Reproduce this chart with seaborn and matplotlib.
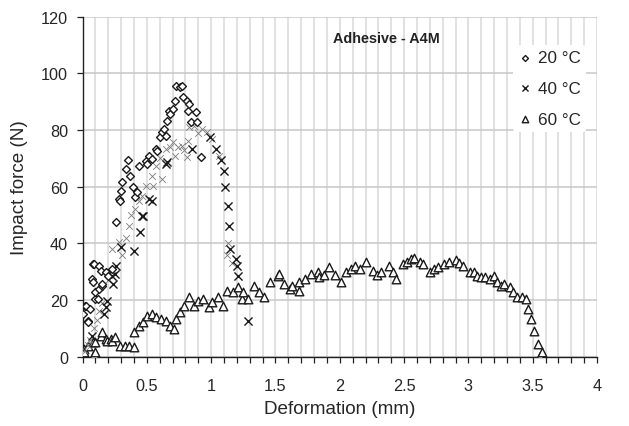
import matplotlib
matplotlib.use("Agg")
import matplotlib.pyplot as plt
import seaborn as sns
from matplotlib.ticker import MultipleLocator, FormatStrFormatter

# 20 °C (diamonds)
d20_x = [0.00, 0.02, 0.03, 0.04, 0.04, 0.06, 0.07, 0.08, 0.08, 0.09, 0.10, 0.10, 0.12, 0.13, 0.13,
         0.14, 0.15, 0.15, 0.18, 0.20, 0.23, 0.26, 0.28, 0.29, 0.30, 0.31, 0.34, 0.35, 0.37, 0.39,
         0.41, 0.42, 0.44, 0.49, 0.50, 0.52, 0.54, 0.57, 0.58, 0.60, 0.62, 0.63, 0.65, 0.66, 0.67,
         0.68, 0.70, 0.72, 0.73, 0.76, 0.77, 0.78, 0.81, 0.82, 0.83, 0.84, 0.88, 0.89, 0.92]
d20_y = [15.1, 18.0, 18.0, 12.7, 12.2, 16.9, 27.4, 26.3, 32.7, 32.7, 20.4, 22.7, 20.4, 32.1, 23.9,
         30.4, 25.1, 25.7, 29.8, 28.6, 31.0, 47.4, 55.7, 55.1, 58.6, 61.5, 66.2, 69.5, 63.9, 59.8,
         56.3, 58.0, 67.4, 69.2, 68.0, 70.9, 69.8, 73.3, 72.7, 77.4, 79.2, 80.4, 78.0, 83.3, 86.8,
         85.6, 87.4, 90.3, 95.6, 95.1, 95.6, 91.5, 90.3, 86.8, 89.2, 82.7, 86.2, 82.7, 70.4]

# 40 °C (crosses)
d40_x = [0.07, 0.17, 0.18, 0.19, 0.23, 0.24, 0.25, 0.26, 0.30, 0.40, 0.45, 0.46, 0.47, 0.52, 0.54,
         0.65, 0.66, 0.85, 0.99, 1.04, 1.08, 1.10, 1.11, 1.13, 1.14, 1.15, 1.19, 1.20, 1.21, 1.29]
d40_y = [7.4, 15.1, 17.5, 19.8, 28.6, 25.7, 29.2, 32.1, 38.6, 37.4, 43.9, 49.8, 49.8, 55.7, 55.1,
         68.0, 68.6, 73.3, 77.4, 73.3, 69.5, 65.6, 59.8, 53.3, 46.0, 38.0, 34.5, 32.1, 28.6, 12.7]
# 40 °C, faint overlapping crosses
d40f_x = [0.02, 0.04, 0.06, 0.09, 0.11, 0.13, 0.15, 0.20, 0.22, 0.23, 0.28, 0.31, 0.34, 0.36, 0.38,
          0.41, 0.44, 0.46, 0.49, 0.54, 0.55, 0.57, 0.60, 0.62, 0.65, 0.68, 0.70, 0.72, 0.74, 0.77,
          0.79, 0.81, 0.82, 0.83, 0.87, 0.90, 0.93, 0.97, 1.01, 1.06, 1.12, 1.13, 1.16]
d40f_y = [2.0, 4.0, 6.0, 10.0, 13.0, 16.0, 19.0, 27.0, 30.0, 38.0, 40.4, 36.0, 42.0, 46.0, 50.0,
          52.0, 55.0, 56.8, 60.4, 63.9, 60.4, 67.4, 70.0, 62.7, 73.3, 74.0, 75.7, 70.9, 74.0, 74.5,
          73.0, 70.4, 76.2, 81.0, 81.5, 79.0, 80.4, 79.2, 76.8, 71.0, 36.0, 40.0, 33.0]

# 60 °C (triangles)
d60_x = [0.01, 0.01, 0.04, 0.08, 0.09, 0.10, 0.10, 0.14, 0.15, 0.18, 0.19, 0.22, 0.23, 0.25, 0.29,
         0.33, 0.36, 0.40, 0.40, 0.44, 0.47, 0.50, 0.54, 0.57, 0.61, 0.65, 0.68, 0.71, 0.73, 0.76,
         0.79, 0.83, 0.87, 0.90, 0.94, 0.98, 1.01, 1.05, 1.09, 1.12, 1.17, 1.21, 1.24, 1.25, 1.29,
         1.33, 1.37, 1.41, 1.46, 1.52, 1.53, 1.57, 1.61, 1.63, 1.68, 1.68, 1.73, 1.78, 1.83, 1.84,
         1.88, 1.92, 1.96, 2.01, 2.05, 2.09, 2.12, 2.16, 2.20, 2.26, 2.29, 2.32, 2.38, 2.41, 2.44,
         2.49, 2.52, 2.55, 2.58, 2.62, 2.65, 2.70, 2.73, 2.76, 2.81, 2.85, 2.90, 2.93, 2.96, 3.01,
         3.04, 3.07, 3.10, 3.13, 3.17, 3.20, 3.22, 3.25, 3.28, 3.32, 3.35, 3.38, 3.42, 3.45, 3.46,
         3.49, 3.51, 3.54, 3.56, 3.57]
d60_y = [2.8, 1.6, 3.9, 5.1, 1.0, 1.6, 5.1, 7.4, 8.6, 6.3, 5.7, 6.3, 5.7, 6.9, 3.9,
         3.9, 3.9, 3.4, 8.6, 11.0, 12.2, 14.5, 15.1, 13.9, 13.3, 12.7, 11.0, 9.8, 13.3, 15.7,
         18.0, 21.0, 18.0, 19.8, 20.4, 17.5, 19.2, 21.0, 18.0, 23.3, 22.7, 24.5, 20.4, 22.7, 20.4,
         25.1, 23.0, 21.0, 26.3, 28.6, 29.2, 25.5, 23.9, 25.1, 26.3, 23.3, 27.4, 29.2, 29.8, 28.0,
         29.0, 31.6, 29.0, 26.3, 29.8, 31.0, 32.1, 31.0, 33.3, 30.4, 29.0, 29.8, 32.1, 30.0, 27.4,
         32.7, 33.3, 34.5, 35.0, 33.5, 32.7, 29.8, 31.0, 31.6, 32.7, 33.5, 34.0, 33.0, 32.1, 29.8,
         30.0, 28.6, 28.0, 28.0, 27.5, 28.6, 26.5, 25.1, 25.5, 24.5, 23.0, 21.0, 21.0, 20.4, 16.9,
         13.3, 9.2, 4.5, 0.4, 1.6]

sns.set_theme(style="white")
plt.rcParams['font.family'] = ['Liberation Sans', 'DejaVu Sans']

fig = plt.figure(figsize=(6.29, 4.27), dpi=100)
ax = fig.add_axes([0.1312, 0.1621, 0.818, 0.7967])

# grid
ax.xaxis.set_major_locator(MultipleLocator(0.5))
ax.xaxis.set_minor_locator(MultipleLocator(0.1))
ax.xaxis.set_major_formatter(FormatStrFormatter('%g'))
ax.yaxis.set_major_locator(MultipleLocator(20))
ax.grid(True, axis='x', which='both', color='#d9d9d9', linewidth=1.1)
ax.grid(True, axis='y', which='major', color='#c8c8c8', linewidth=1.1)
ax.set_axisbelow(True)

sns.scatterplot(x=d60_x, y=d60_y, ax=ax, marker='^', s=38, color='black',
                facecolor='white', edgecolor='#1a1a1a', linewidth=1.0, label='60 °C', zorder=3)
sns.scatterplot(x=d40f_x, y=d40f_y, ax=ax, marker='x', s=22, color='#7a7a7a',
                linewidth=0.6, zorder=4)
sns.scatterplot(x=d40_x, y=d40_y, ax=ax, marker='x', s=34, color='#1a1a1a',
                linewidth=1.0, label='40 °C', zorder=5)
sns.scatterplot(x=d20_x, y=d20_y, ax=ax, marker='D', s=16, color='black',
                facecolor='white', edgecolor='#1a1a1a', linewidth=1.0, label='20 °C', zorder=6)

ax.set_xlim(0, 4)
ax.set_ylim(0, 120)
for side in ['top', 'right']:
    ax.spines[side].set_visible(False)
for side in ['left', 'bottom']:
    ax.spines[side].set_color('#222222')
    ax.spines[side].set_linewidth(1.0)

ax.tick_params(axis='x', which='both', direction='out', length=4, width=0.9,
               color='#222222', bottom=True, labelsize=11.7, pad=11)
ax.tick_params(axis='y', which='major', direction='out', length=4, width=0.9,
               color='#222222', left=True, labelsize=11.7, pad=6.5)

ax.set_xlabel('Deformation (mm)', fontsize=13.6)
ax.set_ylabel('Impact force (N)', fontsize=13.6)
ax.xaxis.set_label_coords(0.5, -0.128)
ax.yaxis.set_label_coords(-0.106, 0.5)

ax.text(2.36, 112.4, 'Adhesive - A4M', fontsize=10.4, fontweight='bold',
        ha='center', va='center', color='#222222')

handles, labels = ax.get_legend_handles_labels()
order = [labels.index(l) for l in ['20 °C', '40 °C', '60 °C']]
leg = ax.legend([handles[i] for i in order], [labels[i] for i in order],
                loc='upper left', bbox_to_anchor=(0.821, 0.942), fontsize=12.3,
                frameon=True, facecolor='white', edgecolor='none', framealpha=1,
                markerscale=0.75, handlelength=0.8, handletextpad=0.35,
                labelspacing=0.93, borderpad=0.3)
leg.set_zorder(10)

fig.savefig('out.png', dpi=100)
